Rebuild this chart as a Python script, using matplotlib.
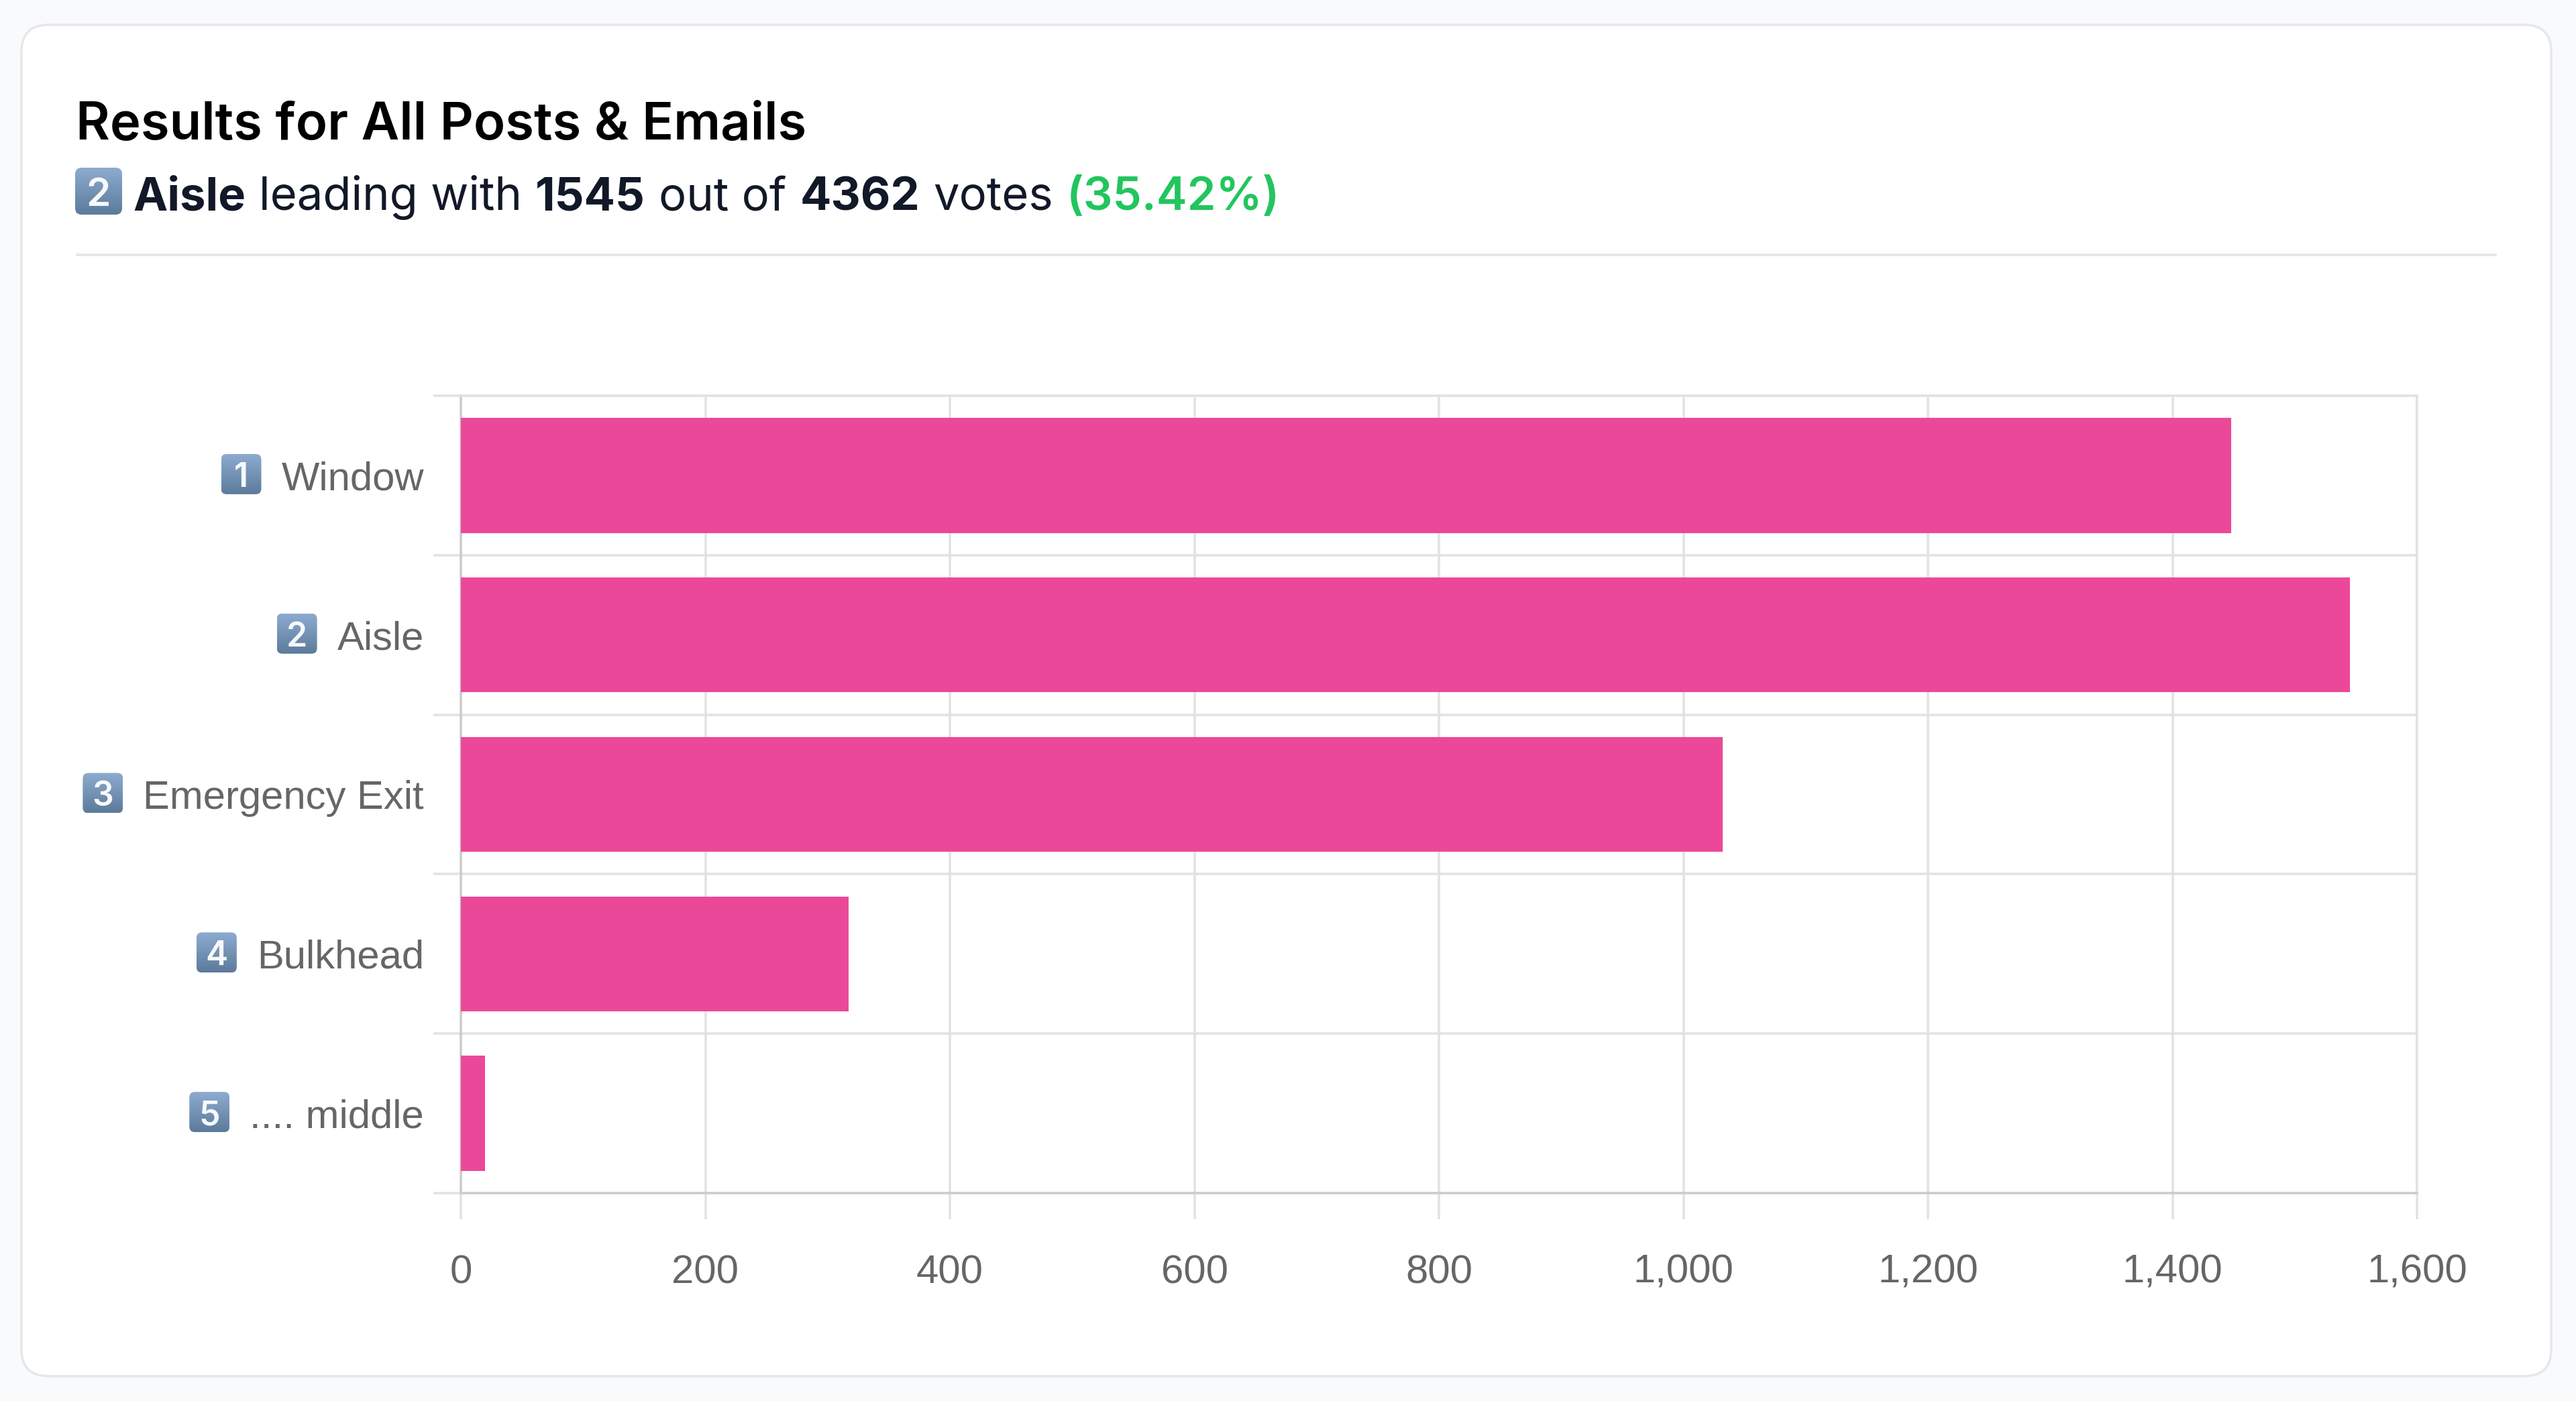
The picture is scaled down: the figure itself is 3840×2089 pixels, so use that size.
from matplotlib import pyplot as plt
from matplotlib.patches import FancyBboxPatch
from matplotlib.ticker import FuncFormatter
import numpy as np

W, H = 3840, 2089

categories = ["Window", "Aisle", "Emergency Exit", "Bulkhead", ".... middle"]
keycaps = ["1", "2", "3", "4", "5"]
votes = [1448, 1545, 1032, 317, 20]
x_ticks = [0, 200, 400, 600, 800, 1000, 1200, 1400, 1600]

title = "Results for All Posts & Emails"
# text, weight, colour
summary = [
    ("Aisle", "bold", "#111827"),
    ("leading with", "normal", "#111827"),
    ("1545", "bold", "#111827"),
    ("out of", "normal", "#111827"),
    ("4362", "bold", "#111827"),
    ("votes", "normal", "#111827"),
    ("(35.42%)", "semibold", "#22c55e"),
]

PINK = "#ec4899"
GRID = "#e2e2e2"
AXIS = "#cccccc"
LABEL = "#666666"
PX = 0.72  # points per pixel at dpi 100


def keycap(ax, x, y, size, digit):
    # rounded blue tile with a vertical gradient and a white digit
    r = size * 0.14
    box = FancyBboxPatch((x + r, y + r), size - 2 * r, size - 2 * r,
                         boxstyle="round,pad=%f,rounding_size=%f" % (r, r),
                         fc="none", ec="none", transform=ax.transData)
    ax.add_patch(box)
    top = np.array([0x8d, 0xab, 0xcf]) / 255
    bottom = np.array([0x5c, 0x7b, 0x9b]) / 255
    t = np.linspace(0, 1, 64)[:, None, None]
    grad = top * (1 - t) + bottom * t
    im = ax.imshow(grad, extent=(x, x + size, y + size, y), aspect="auto",
                   interpolation="bilinear", zorder=2)
    im.set_clip_path(box)
    ax.text(x + size / 2, y + size * 0.51, digit, color="#f7f9fc",
            fontsize=size * 0.6, fontweight="semibold", family="Inter",
            ha="center", va="center_baseline", zorder=3)


fig = plt.figure(figsize=(W / 100, H / 100), dpi=100, facecolor="#f9fafb")

# full-figure layer in pixel coordinates for the card and the heading
bg = fig.add_axes([0, 0, 1, 1], zorder=0)
bg.set_axis_off()
card = FancyBboxPatch((72, 77), 3691, 1935,
                      boxstyle="round,pad=40,rounding_size=40",
                      fc="white", ec="#e5e7eb", lw=3.5 * PX)
bg.add_patch(card)
bg.plot([113, 3722], [380, 380], color="#e5e7eb", lw=4 * PX, solid_capstyle="butt")
bg.text(113, 208, title, color="black", fontsize=56, fontweight="semibold",
        family="Inter", va="baseline")

# bar chart
left, right, top, bottom = 687, 3603, 590, 1779
ax = fig.add_axes([left / W, 1 - bottom / H, (right - left) / W, (bottom - top) / H], zorder=1)
ypos = np.arange(len(categories))
ax.barh(ypos, votes, height=0.72, color=PINK, zorder=3)
ax.set_xlim(0, 1600)
ax.set_ylim(len(categories) - 0.5, -0.5)
ax.set_xticks(x_ticks)
ax.xaxis.set_major_formatter(FuncFormatter(lambda v, _: format(int(v), ",")))
ax.set_yticks(ypos)
ax.set_yticklabels(categories)
ax.set_yticks(np.arange(len(categories) + 1) - 0.5, minor=True)

ax.grid(True, which="major", axis="x", color=GRID, lw=3.5 * PX, zorder=1)
ax.grid(True, which="minor", axis="y", color=GRID, lw=3.5 * PX, zorder=1)
ax.set_axisbelow(True)
ax.tick_params(axis="x", which="major", length=39 * PX, width=3.5 * PX, color=GRID,
               labelsize=43, labelcolor=LABEL, pad=52 * PX)
ax.tick_params(axis="y", which="major", length=0, labelsize=43, labelcolor=LABEL, pad=55 * PX)
ax.tick_params(axis="y", which="minor", length=41 * PX, width=3.5 * PX, color=GRID)
for lab in ax.get_xticklabels() + ax.get_yticklabels():
    lab.set_family("Liberation Sans")
for lab in ax.get_yticklabels():
    lab.set_verticalalignment("center_baseline")
for name, spine in ax.spines.items():
    spine.set_linewidth(3.5 * PX)
    spine.set_color(AXIS if name in ("left", "bottom") else GRID)

bg.set_xlim(0, W)
bg.set_ylim(H, 0)

renderer = fig.canvas.get_renderer()

# keycaps sit just left of each category label
for lab, digit, y in zip(ax.get_yticklabels(), keycaps, ypos):
    ext = lab.get_window_extent(renderer)
    yc = ax.transData.transform((0, y))[1]
    keycap(bg, ext.x0 - 30 - 60, H - yc - 32, 60, digit)

# summary line, one run of text after the other
keycap(bg, 112, 250, 70, keycaps[categories.index(summary[0][0])])
x = 198
for text, weight, color in summary:
    t = bg.text(x, 313, text, color=color, fontsize=49.5, fontweight=weight,
                family="Inter", va="baseline")
    x = t.get_window_extent(renderer).x1 + 20

bg.set_xlim(0, W)
bg.set_ylim(H, 0)
fig.savefig("out.png", dpi=100, facecolor=fig.get_facecolor())
